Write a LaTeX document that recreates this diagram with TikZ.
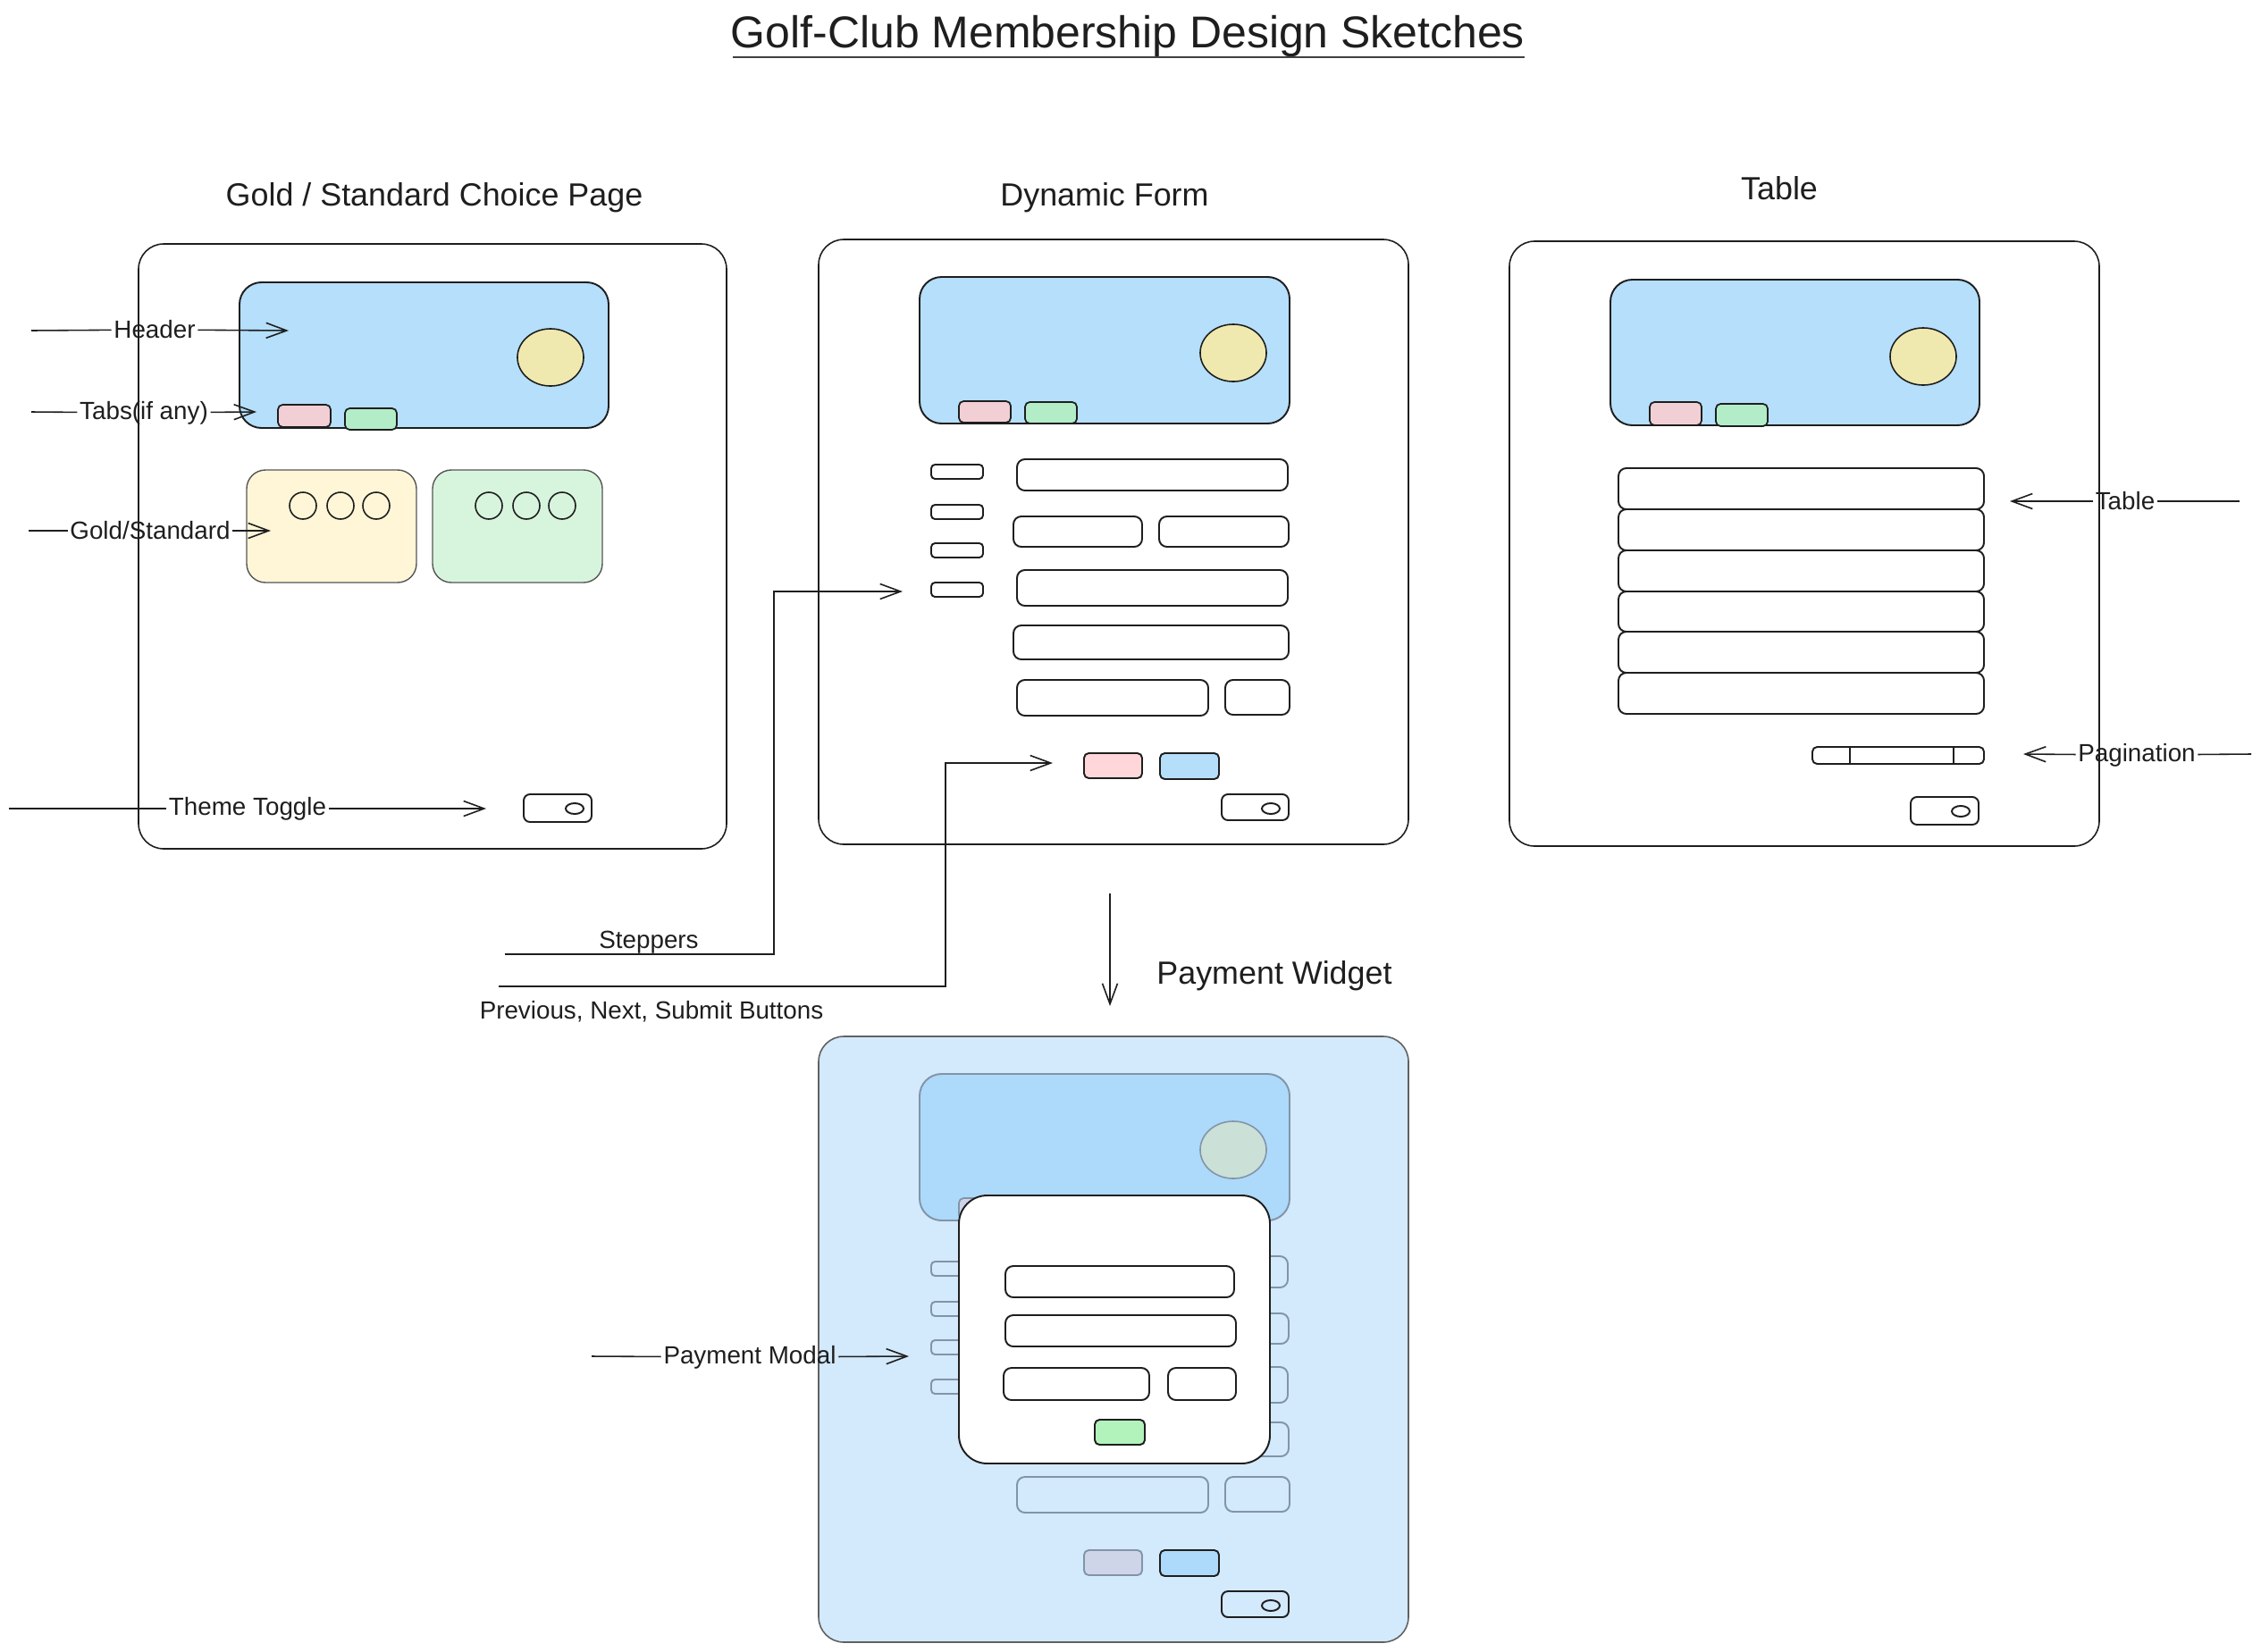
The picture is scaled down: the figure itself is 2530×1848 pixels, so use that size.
\documentclass[tikz,border=0pt]{standalone}
\usepackage{fontspec}
\setmainfont{Liberation Sans}
\usetikzlibrary{arrows.meta}
\definecolor{ink}{HTML}{1E1E1E}
\definecolor{hdr}{HTML}{B5DFFB}
\definecolor{hdrb}{HTML}{ADD9FA}
\definecolor{sunc}{HTML}{F0E9AF}
\definecolor{sunb}{HTML}{CBE0D6}
\definecolor{tabpink}{HTML}{F1CFD5}
\definecolor{tabgreen}{HTML}{B2EDC8}
\definecolor{goldc}{HTML}{FFF6D7}
\definecolor{greenc}{HTML}{D7F5DD}
\definecolor{btnpink}{HTML}{FFD6D9}
\definecolor{btnblue}{HTML}{B5DEFA}
\definecolor{btnfade}{HTML}{CED5E9}
\definecolor{payfill}{HTML}{D3E9FC}
\definecolor{fade}{HTML}{8294A8}
\definecolor{okgreen}{HTML}{B2F2BB}
\newcommand\formbody{%
  \draw[hdrbox] (1029,310) rectangle (1443,474);
  \draw[sunsty] (1380,395) ellipse [x radius=0.37cm, y radius=0.32cm];
  \draw[tabp] (1073,449) rectangle (1131,473);
  \draw[tabg] (1147,450) rectangle (1205,474);
  \foreach \yy in {520,565,608,652} \draw[lbl] (1042,\yy) rectangle (1100,\yy+16);
  \draw[fld] (1138,514) rectangle (1441,549);
  \draw[fld] (1134,578) rectangle (1278,612);
  \draw[fld] (1297,578) rectangle (1442,612);
  \draw[fld] (1138,638) rectangle (1441,678);
  \draw[fld] (1134,700) rectangle (1442,738);
  \draw[fld] (1138,761) rectangle (1352,801);
  \draw[fld] (1371,761) rectangle (1443,800);
  \draw[btnp] (1213,843) rectangle (1278,871);
  \draw[btnb] (1298,843) rectangle (1364,872);
  \draw[tgl] (1367,889) rectangle (1442,918);
  \draw[tgl] (1422,905) ellipse [x radius=0.10cm, y radius=0.06cm];
}
\begin{document}
\begin{tikzpicture}[x=0.01cm,y=-0.01cm,
  frame/.style={draw=ink, line width=0.45pt, rounded corners=8pt},
  hdrbox/.style={draw=ink, fill=hdr, line width=0.55pt, rounded corners=7pt},
  sunsty/.style={draw=ink, fill=sunc, line width=0.45pt},
  tabp/.style={draw=ink, fill=tabpink, line width=0.5pt, rounded corners=1.5pt},
  tabg/.style={draw=ink, fill=tabgreen, line width=0.5pt, rounded corners=1.5pt},
  card/.style={draw=ink!75, line width=0.4pt, rounded corners=6pt},
  dot/.style={draw=ink, line width=0.45pt},
  fld/.style={draw=ink, line width=0.55pt, rounded corners=2.5pt},
  lbl/.style={draw=ink, line width=0.55pt, rounded corners=1.2pt},
  btnp/.style={draw=ink, fill=btnpink, line width=0.55pt, rounded corners=1.5pt},
  btnb/.style={draw=ink, fill=btnblue, line width=0.55pt, rounded corners=1.5pt},
  tgl/.style={draw=ink, line width=0.55pt, rounded corners=2pt},
  arr/.style={draw=ink, line width=0.45pt, -{Straight Barb[length=2.3mm,width=1.7mm]}},
  plain/.style={draw=ink, line width=0.55pt},
  note/.style={font=\fontsize{7.9}{9.5}\selectfont, text=ink, inner sep=0.6pt},
  sect/.style={font=\fontsize{10.2}{12}\selectfont, text=ink, inner sep=0pt},
]
\useasboundingbox (0,0) rectangle (2530,1848);

% title
\node[font=\fontsize{14.2}{17}\selectfont, text=ink, inner sep=0pt] (title) at (1262,41) {Golf-Club Membership Design Sketches};
\coordinate (ul1) at (820,64);
\coordinate (ul2) at (1706,64);
\draw[draw=ink!85, line width=0.8pt] (ul1) -- (ul2);

% section titles
\node[sect] (t1) at (486,221) {Gold / Standard Choice Page};
\node[sect] (t2) at (1236,221) {Dynamic Form};
\node[sect] (t3) at (1991,211) {Table};
\node[sect] (t4) at (1426,1092) {Payment Widget};

% ===== Frame 1 =====
\draw[frame] (155,273) rectangle (813,950);
\draw[hdrbox] (268,316) rectangle (681,479);
\draw[sunsty] (616,400) ellipse [x radius=0.37cm, y radius=0.32cm];
\draw[tabp] (311,453) rectangle (370,478);
\draw[tabg] (386,457) rectangle (444,481);
\draw[card, fill=goldc] (276,526) rectangle (466,652);
\draw[card, fill=greenc] (484,526) rectangle (674,652);
\foreach \xx in {339,381,421,547,589,629} \draw[dot] (\xx,566) circle [radius=0.15cm];
\draw[tgl] (586,889) rectangle (662,920);
\draw[tgl] (643,905) ellipse [x radius=0.10cm, y radius=0.06cm];

% ===== Frame 2 =====
\draw[frame] (916,268) rectangle (1576,945);
\formbody

% ===== Frame 3 =====
\draw[frame] (1689,270) rectangle (2349,947);
\draw[hdrbox] (1802,313) rectangle (2215,476);
\draw[sunsty] (2152,399) ellipse [x radius=0.37cm, y radius=0.32cm];
\draw[tabp] (1846,450) rectangle (1904,476);
\draw[tabg] (1920,452) rectangle (1978,477);
\foreach \ya/\yb in {524/570,570/616,616/662,662/707,707/753,753/799}
  \draw[fld] (1811,\ya) rectangle (2220,\yb);
\draw[fld, rounded corners=1.5pt] (2028,836) rectangle (2220,855);
\draw[plain, line width=0.45pt] (2070,836) -- (2070,855);
\draw[plain, line width=0.45pt] (2186,836) -- (2186,855);
\draw[tgl] (2138,892) rectangle (2214,923);
\draw[tgl] (2194,908) ellipse [x radius=0.10cm, y radius=0.06cm];

% ===== Frame 4 (payment) =====
\draw[frame, draw=ink!70, fill=payfill] (916,1160) rectangle (1576,1838);
\begin{scope}[shift={(0,892)},
  hdrbox/.style={draw=fade, fill=hdrb, line width=0.55pt, rounded corners=7pt},
  sunsty/.style={draw=fade, fill=sunb, line width=0.45pt},
  tabp/.style={draw=fade, fill=btnfade, line width=0.5pt, rounded corners=1.5pt},
  tabg/.style={draw=fade, fill=hdrb, line width=0.5pt, rounded corners=1.5pt},
  fld/.style={draw=fade, line width=0.55pt, rounded corners=2.5pt},
  lbl/.style={draw=fade, line width=0.55pt, rounded corners=1.2pt},
  btnp/.style={draw=fade, fill=btnfade, line width=0.55pt, rounded corners=1.5pt},
  btnb/.style={draw=ink, fill=hdrb, line width=0.55pt, rounded corners=1.5pt}]
\formbody
\end{scope}
\draw[draw=ink, fill=white, line width=0.55pt, rounded corners=9pt] (1073,1338) rectangle (1421,1638);
\draw[fld] (1125,1417) rectangle (1381,1452);
\draw[fld] (1125,1472) rectangle (1383,1507);
\draw[fld] (1123,1531) rectangle (1286,1567);
\draw[fld] (1307,1531) rectangle (1383,1567);
\draw[btnp, fill=okgreen] (1225,1589) rectangle (1281,1617);

% ===== annotations =====
\coordinate (hs) at (35,370);  \coordinate (he) at (323,370);
\node[note] (lh) at (173,369) {Header};
\draw[arr] (hs) -- (lh) -- (he);

\coordinate (ts) at (35,461);  \coordinate (te) at (287,461);
\node[note] (lt) at (161,462) {Tabs(if any)};
\draw[arr] (ts) -- (lt) -- (te);

\coordinate (gs) at (32,594);  \coordinate (ge) at (303,594);
\node[note] (lg) at (168,594) {Gold/Standard};
\draw[arr] (gs) -- (lg) -- (ge);

\coordinate (ms) at (10,905);  \coordinate (me) at (544,905);
\node[note] (lm) at (277,905) {Theme Toggle};
\draw[arr] (ms) -- (lm) -- (me);

\coordinate (tbs) at (2506,561);  \coordinate (tbe) at (2249,561);
\node[note] (ltb) at (2378,561) {Table};
\draw[arr] (tbs) -- (ltb) -- (tbe);

\coordinate (ps) at (2519,844);  \coordinate (pe) at (2264,844);
\node[note] (lp) at (2391,845) {Pagination};
\draw[arr] (ps) -- (lp) -- (pe);

\coordinate (pms) at (662,1518);  \coordinate (pme) at (1017,1518);
\node[note] (lpm) at (839,1519) {Payment Modal};
\draw[arr] (pms) -- (lpm) -- (pme);

% steppers
\coordinate (ss) at (565,1068);
\coordinate (sc) at (866,1068);
\coordinate (se) at (1010,662);
\node[note] (lst) at (726,1055) {Steppers};
\draw[arr] (ss) -- (sc) |- (se);

% buttons
\coordinate (bs) at (558,1104);
\coordinate (bc) at (1058,1104);
\coordinate (be) at (1178,854);
\node[note] (lbt) at (729,1132) {Previous, Next, Submit Buttons};
\draw[arr] (bs) -- (bc) |- (be);

% form -> payment
\coordinate (fa) at (1242,1000);
\coordinate (fb) at (1242,1126);
\draw[arr] (fa) -- (fb);
\end{tikzpicture}
\end{document}
